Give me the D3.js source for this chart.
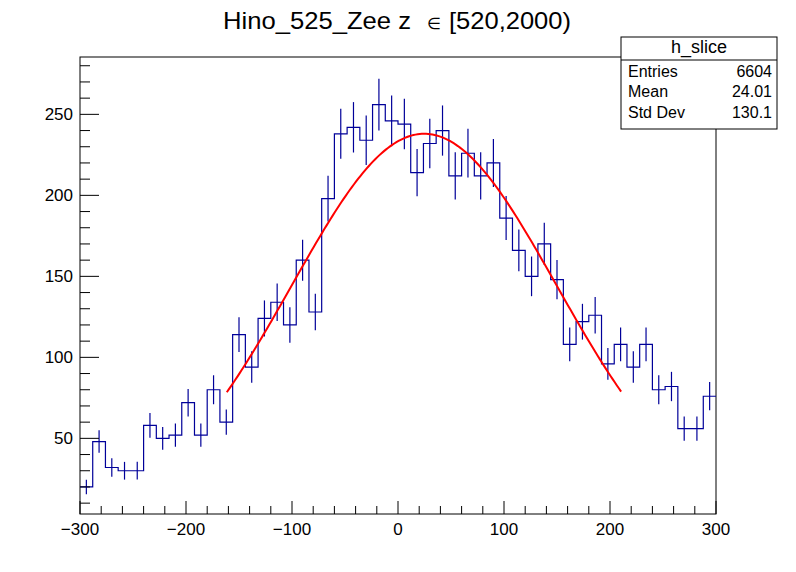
<!DOCTYPE html>
<html>
<head>
<meta charset="utf-8">
<script src="https://cdn.jsdelivr.net/npm/d3@7"></script>
<style>
  body { margin: 0; background: #fff; }
  svg { display: block; font-family: "Liberation Sans", Arial, sans-serif; }
</style>
</head>
<body>
<svg width="796" height="572"></svg>
<script>
// bin edges: 50 bins of width 12 from -300 to 300
const xLow = -300, xHigh = 300, nBins = 50;
const counts = [
  20, 48, 32, 30, 30, 58, 50, 52, 72, 52,
  80, 60, 114, 94, 124, 134, 120, 160, 128, 198,
  238, 242, 234, 256, 246, 244, 214, 232, 240, 212,
  226, 212, 220, 186, 166, 150, 170, 148, 108, 122,
  126, 96, 108, 94, 108, 80, 82, 56, 56, 76
];
const xTicks = [-300, -200, -100, 0, 100, 200, 300];
const yTicks = [50, 100, 150, 200, 250];

// gaussian fit parameters
const fitConst = 238, fitMean = 24.7, fitSigma = 125;
const fitRange = [-161.5, 211];

const statsTitle = 'h_slice';
const statsRows = [['Entries', '6604'], ['Mean', '24.01'], ['Std Dev', '130.1']];

const svg = d3.select('svg');
const L = 80, R = 716, T = 57, B = 514;

const x = d3.scaleLinear().domain([xLow, xHigh]).range([L, R]);
const y = d3.scaleLinear().domain([3.3, 285.4]).range([B, T]);

const binW = (xHigh - xLow) / nBins;
const bins = counts.map((c, i) => ({ lo: xLow + i * binW, hi: xLow + (i + 1) * binW, c: c }));

// title, in three pieces like ROOT's latex
const title = svg.append('g').attr('font-size', 24);
title.append('text').attr('x', 223).attr('y', 28.5)
  .attr('textLength', 188).attr('lengthAdjust', 'spacingAndGlyphs')
  .text('Hino_525_Zee z');
title.append('text').attr('x', 427).attr('y', 28.5).attr('font-size', 16).text('\u2208');
title.append('text').attr('x', 449).attr('y', 28.5)
  .attr('textLength', 122).attr('lengthAdjust', 'spacingAndGlyphs')
  .text('[520,2000)');

// frame
svg.append('rect')
  .attr('x', L).attr('y', T).attr('width', R - L).attr('height', B - T)
  .attr('fill', 'none').attr('stroke', '#000').attr('stroke-width', 1);

// histogram step outline
const step = [];
step.push([x(xLow), y(bins[0].c)]);
bins.forEach(b => { step.push([x(b.lo), y(b.c)]); step.push([x(b.hi), y(b.c)]); });
svg.append('path')
  .attr('d', d3.line()(step))
  .attr('fill', 'none').attr('stroke', '#000099').attr('stroke-width', 1.2);

// error bars sqrt(N)
const eb = svg.append('g').attr('stroke', '#000099').attr('stroke-width', 1.2);
bins.forEach(b => {
  const xc = x((b.lo + b.hi) / 2);
  const e = Math.sqrt(b.c);
  eb.append('line')
    .attr('x1', xc).attr('x2', xc)
    .attr('y1', Math.min(B, y(b.c - e))).attr('y2', y(b.c + e));
});

// fit curve
const fitX = d3.range(fitRange[0], fitRange[1] + 0.01, 2);
const gaus = v => fitConst * Math.exp(-0.5 * Math.pow((v - fitMean) / fitSigma, 2));
svg.append('path')
  .attr('d', d3.line().x(v => x(v)).y(v => y(gaus(v)))(fitX))
  .attr('fill', 'none').attr('stroke', '#ff0000').attr('stroke-width', 2);

// x axis ticks
const xAx = svg.append('g').attr('stroke', '#000');
d3.range(xLow, xHigh + 1, 20).forEach(v => {
  const major = v % 100 === 0;
  xAx.append('line')
    .attr('x1', x(v)).attr('x2', x(v))
    .attr('y1', B).attr('y2', B - (major ? 13 : 8));
});
svg.append('g').selectAll('text').data(xTicks).join('text')
  .attr('x', d => x(d)).attr('y', 535)
  .attr('text-anchor', 'middle').attr('font-size', 17)
  .text(d => d < 0 ? '\u2212' + Math.abs(d) : d);

// y axis ticks
const yAx = svg.append('g').attr('stroke', '#000');
d3.range(10, 290, 10).forEach(v => {
  if (y(v) < T) return;
  const major = v % 50 === 0;
  yAx.append('line')
    .attr('x1', L).attr('x2', L + (major ? 19 : 10))
    .attr('y1', y(v)).attr('y2', y(v));
});
svg.append('g').selectAll('text').data(yTicks).join('text')
  .attr('x', 73).attr('y', d => y(d) + 6)
  .attr('text-anchor', 'end').attr('font-size', 17)
  .text(d => d);

// stats box
const sx = 621, sy = 37, sw = 156, sh = 92;
const st = svg.append('g');
st.append('rect')
  .attr('x', sx).attr('y', sy).attr('width', sw).attr('height', sh)
  .attr('fill', '#fff').attr('stroke', '#000');
st.append('line')
  .attr('x1', sx).attr('x2', sx + sw).attr('y1', 60).attr('y2', 60)
  .attr('stroke', '#000');
st.append('text')
  .attr('x', sx + sw / 2).attr('y', 53)
  .attr('text-anchor', 'middle').attr('font-size', 18)
  .text(statsTitle);
statsRows.forEach((r, i) => {
  const by = 77 + i * 20.3;
  st.append('text').attr('x', sx + 7).attr('y', by).attr('font-size', 16).text(r[0]);
  st.append('text').attr('x', sx + sw - 5).attr('y', by)
    .attr('text-anchor', 'end').attr('font-size', 16).text(r[1]);
});
</script>
</body>
</html>
